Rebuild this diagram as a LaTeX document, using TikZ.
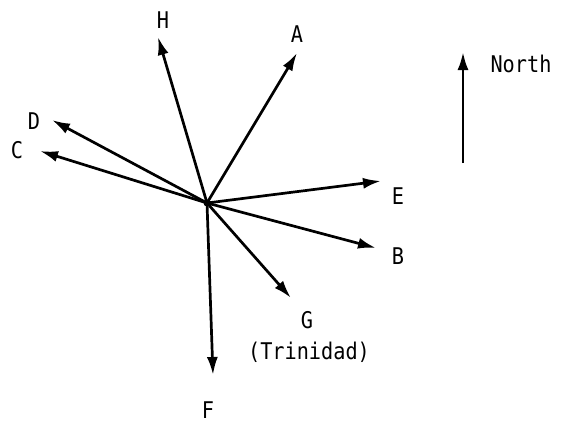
\documentclass[tikz,border=0pt]{standalone}
\usepackage{fontspec}
\setmainfont[FakeStretch=0.88]{DejaVu Sans Mono}
\usetikzlibrary{arrows.meta}
\tikzset{
  arr/.style={line width=2.7pt,-{Latex[length=18pt,width=11pt]}},
  lbl/.style={font=\fontsize{23}{25}\selectfont,inner sep=0pt}
}
\begin{document}
\begin{tikzpicture}[x=1pt,y=-1pt]
\useasboundingbox (0,0) rectangle (567,423);
\coordinate (O) at (207,203);
\coordinate (H) at (158,37);
\coordinate (A) at (297,53);
\coordinate (D) at (52,120);
\coordinate (C) at (40,151);
\coordinate (E) at (381,181);
\coordinate (B) at (376,248);
\coordinate (G) at (291,298);
\coordinate (F) at (213,375);
\coordinate (Ns) at (463,163);
\coordinate (Ne) at (463,52);
\foreach \t in {H,A,D,C,E,B,G,F} {\draw[arr] (O) -- (\t);}
\fill (O) circle (3.5);
\draw[arr] (Ns) -- (Ne);
\node[lbl] (lH) at (163,20) {H};
\node[lbl] (lA) at (297,34) {A};
\node[lbl] (lD) at (34,121) {D};
\node[lbl] (lC) at (17,150) {C};
\node[lbl] (lE) at (398,196) {E};
\node[lbl] (lB) at (398,256) {B};
\node[lbl] (lG) at (307,320) {G};
\node[lbl] (lT) at (309,352) {(Trinidad)};
\node[lbl] (lF) at (208,410) {F};
\node[lbl] (lN) at (521,64) {North};
\end{tikzpicture}
\end{document}
